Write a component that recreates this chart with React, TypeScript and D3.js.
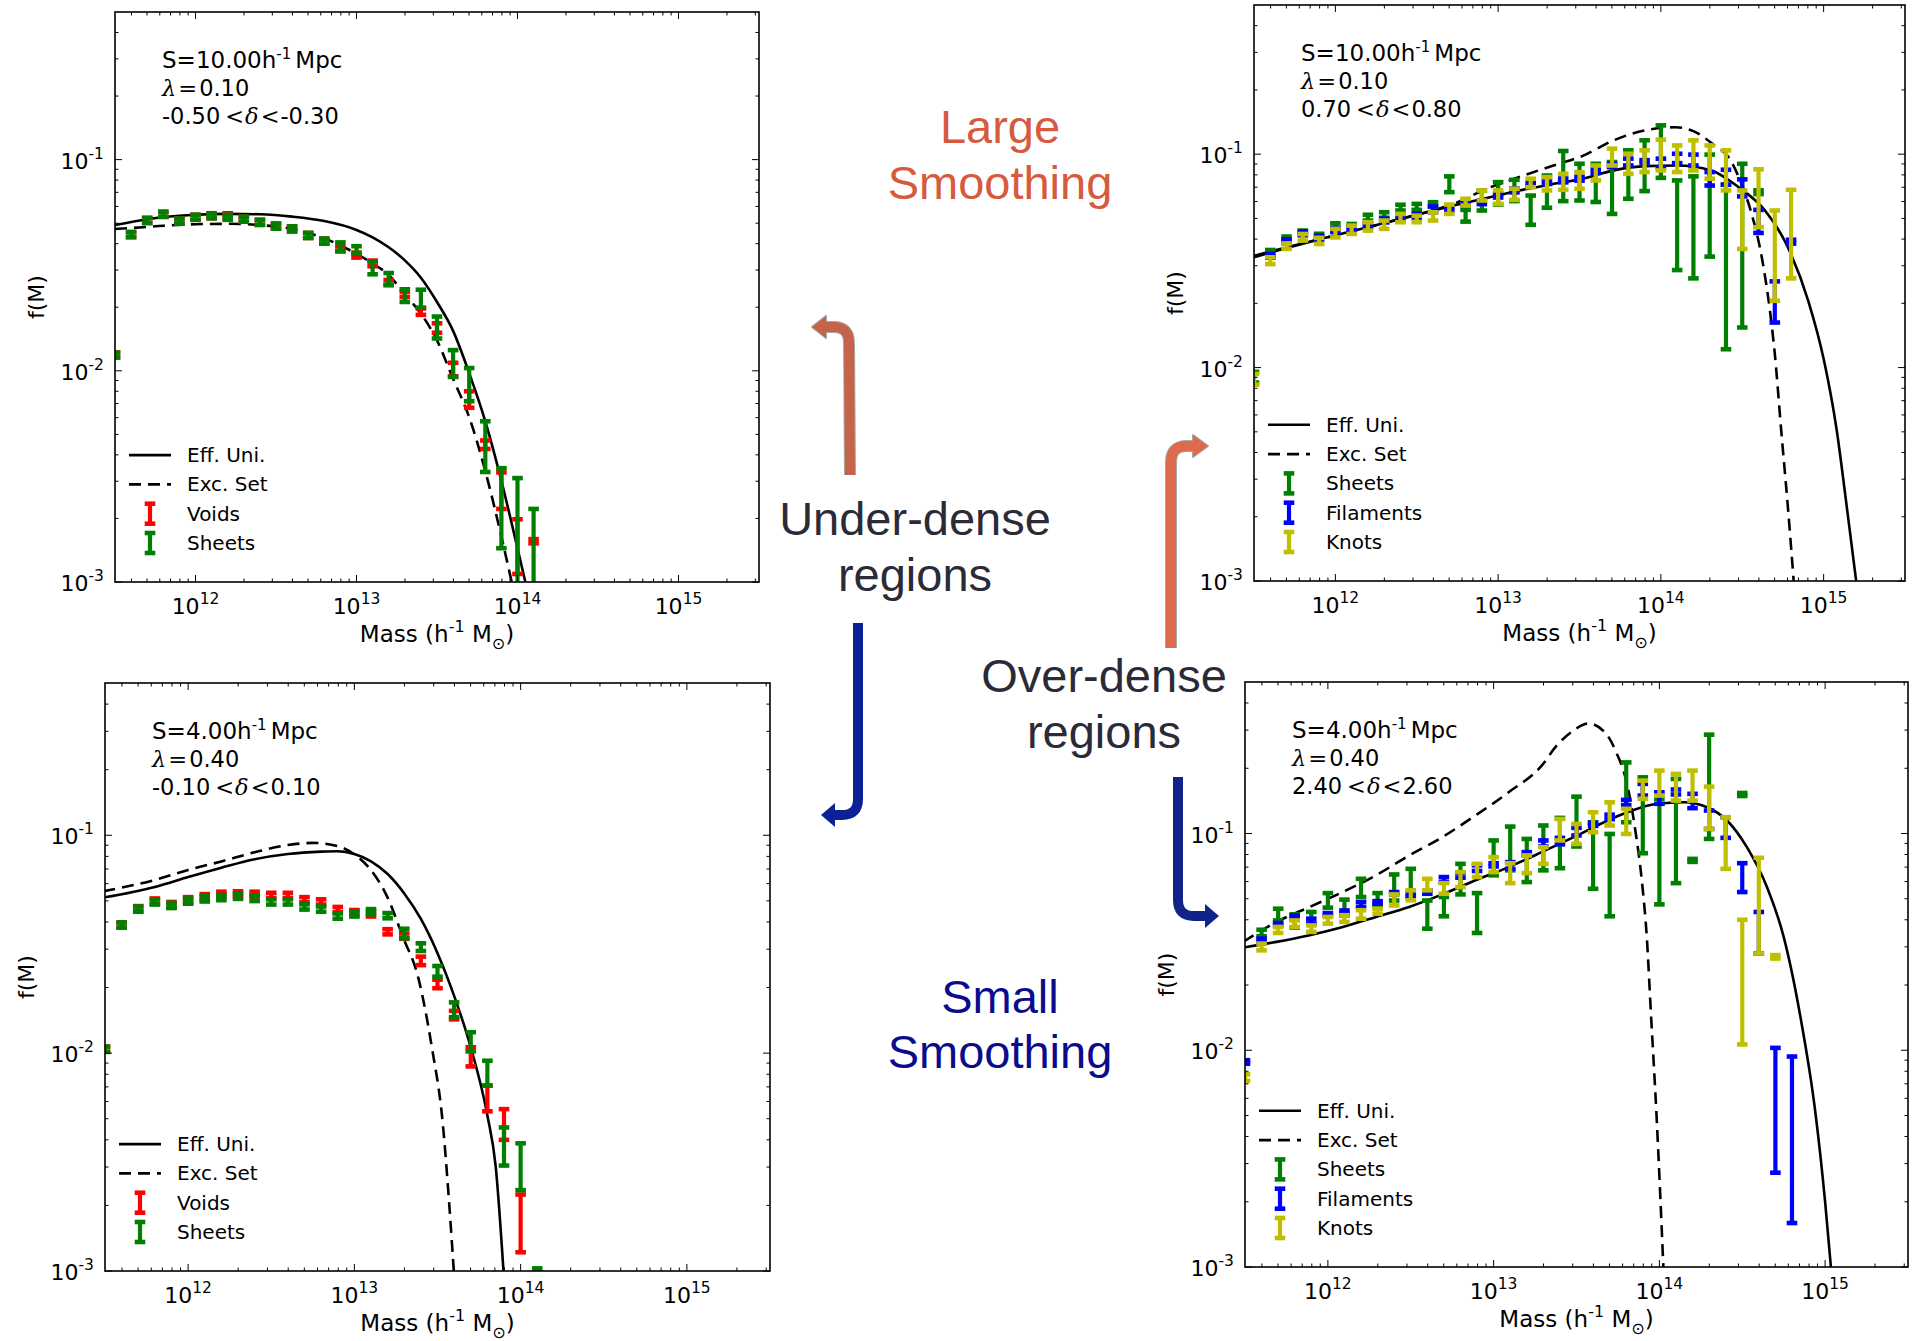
import React from "react";
import * as d3 from "d3";

// ---------- data (log10 M, log10 f) ----------
type EB = [number, number, number]; // [log10 M, log10 f lower, log10 f upper]
type CP = [number, number]; // [log10 M, log10 f]

const X_LIM: [number, number] = [Math.pow(10, 11.5), Math.pow(10, 15.5)];
const Y_LIM: [number, number] = [1e-3, 0.5];
const X_MAJOR_EXP = [12, 13, 14, 15];
const Y_MAJOR_EXP = [-1, -2, -3];

const C_VOIDS = "#ff0000";
const C_SHEETS = "#008000";
const C_FIL = "#0000ff";
const C_KNOTS = "#bfbf00";

// Panel 1: S=10, under-dense
const P1_EFF: CP[] = [[11.5,-1.310],[11.7,-1.282],[11.9,-1.266],[12.0,-1.261],[12.2,-1.257],[12.4,-1.259],[12.6,-1.270],[12.8,-1.291],[13.0,-1.333],[13.1,-1.368],[13.2,-1.415],[13.3,-1.477],[13.4,-1.559],[13.5,-1.674],[13.6,-1.811],[13.7,-2.011],[13.8,-2.239],[13.9,-2.521],[14.0,-2.840],[14.05,-3.004]];
const P1_EXC: CP[] = [[11.5,-1.328],[11.6,-1.324],[11.8,-1.313],[12.0,-1.306],[12.2,-1.304],[12.4,-1.310],[12.6,-1.328],[12.8,-1.373],[13.0,-1.446],[13.1,-1.492],[13.2,-1.546],[13.3,-1.638],[13.4,-1.729],[13.5,-1.856],[13.6,-2.038],[13.7,-2.220],[13.8,-2.475],[13.9,-2.785],[13.965,-3.004]];
const P1_VOIDS: EB[] = [[11.5,-1.937,-1.913],[11.6,-1.367,-1.343],[11.7,-1.300,-1.276],[11.8,-1.271,-1.247],[11.9,-1.303,-1.279],[12.0,-1.285,-1.261],[12.1,-1.278,-1.254],[12.2,-1.278,-1.254],[12.3,-1.294,-1.270],[12.4,-1.309,-1.285],[12.5,-1.327,-1.303],[12.6,-1.340,-1.316],[12.7,-1.371,-1.347],[12.8,-1.398,-1.374],[12.9,-1.435,-1.411],[13.0,-1.464,-1.440],[13.1,-1.505,-1.478],[13.2,-1.595,-1.570],[13.3,-1.650,-1.625],[13.4,-1.735,-1.705],[13.5,-1.820,-1.775],[13.6,-2.026,-1.962],[13.7,-2.175,-2.097],[13.8,-2.370,-2.330],[13.9,-2.654,-2.481],[14.0,-2.962,-2.703],[14.1,-2.817,-2.797]];
const P1_SHEETS: EB[] = [[11.5,-1.937,-1.913],[11.6,-1.367,-1.343],[11.7,-1.300,-1.276],[11.8,-1.271,-1.247],[11.9,-1.303,-1.279],[12.0,-1.285,-1.261],[12.1,-1.278,-1.254],[12.2,-1.285,-1.261],[12.3,-1.294,-1.270],[12.4,-1.309,-1.285],[12.5,-1.327,-1.303],[12.6,-1.340,-1.316],[12.7,-1.371,-1.347],[12.8,-1.398,-1.374],[12.9,-1.432,-1.392],[13.0,-1.446,-1.410],[13.1,-1.543,-1.483],[13.2,-1.592,-1.537],[13.3,-1.674,-1.614],[13.4,-1.701,-1.616],[13.5,-1.847,-1.743],[13.6,-2.029,-1.902],[13.7,-2.144,-1.987],[13.8,-2.479,-2.239],[13.9,-2.840,-2.461],[14.0,-3.100,-2.508],[14.1,-3.100,-2.654]];

// Panel 2: S=10, over-dense
const P2_EFF: CP[] = [[11.5,-1.483],[11.7,-1.440],[11.91,-1.397],[12.12,-1.358],[12.32,-1.319],[12.52,-1.280],[12.725,-1.241],[12.93,-1.205],[13.13,-1.170],[13.33,-1.141],[13.52,-1.115],[13.71,-1.076],[13.905,-1.056],[14.1,-1.053],[14.31,-1.076],[14.476,-1.154],[14.64,-1.264],[14.78,-1.436],[14.905,-1.686],[15.0,-1.959],[15.08,-2.291],[15.145,-2.669],[15.2,-3.0]];
const P2_EXC: CP[] = [[11.5,-1.476],[11.7,-1.437],[11.91,-1.397],[12.12,-1.358],[12.32,-1.319],[12.52,-1.280],[12.725,-1.233],[12.93,-1.162],[13.13,-1.107],[13.34,-1.053],[13.52,-1.008],[13.71,-0.935],[13.905,-0.888],[14.09,-0.874],[14.2,-0.892],[14.33,-0.959],[14.415,-1.013],[14.495,-1.139],[14.557,-1.278],[14.62,-1.483],[14.67,-1.733],[14.70,-1.935],[14.74,-2.3],[14.78,-2.65],[14.816,-3.0]];
const P2_SHEETS: EB[] = [[11.5,-2.07,-2.02],[11.6,-1.480,-1.449],[11.7,-1.405,-1.386],[11.8,-1.371,-1.358],[11.9,-1.387,-1.373],[12.0,-1.345,-1.324],[12.1,-1.339,-1.327],[12.2,-1.311,-1.284],[12.3,-1.298,-1.272],[12.4,-1.264,-1.237],[12.5,-1.261,-1.233],[12.6,-1.245,-1.225],[12.7,-1.178,-1.104],[12.8,-1.316,-1.261],[12.9,-1.264,-1.170],[13.0,-1.236,-1.131],[13.1,-1.220,-1.120],[13.2,-1.331,-1.194],[13.3,-1.251,-1.100],[13.4,-1.220,-0.985],[13.5,-1.217,-1.045],[13.6,-1.224,-1.045],[13.7,-1.280,-1.037],[13.8,-1.209,-0.982],[13.9,-1.173,-0.935],[14.0,-1.111,-0.865],[14.1,-1.543,-1.123],[14.2,-1.582,-1.104],[14.3,-1.480,-1.002],[14.4,-1.914,-1.143],[14.5,-1.812,-1.045],[14.6,-1.187,-1.169]];
const P2_FIL: EB[] = [[11.6,-1.485,-1.467],[11.7,-1.417,-1.399],[11.8,-1.380,-1.362],[11.9,-1.400,-1.382],[12.0,-1.365,-1.347],[12.1,-1.359,-1.341],[12.2,-1.345,-1.327],[12.3,-1.320,-1.302],[12.4,-1.308,-1.290],[12.5,-1.297,-1.279],[12.6,-1.272,-1.245],[12.7,-1.265,-1.247],[12.8,-1.242,-1.224],[12.9,-1.234,-1.216],[13.0,-1.203,-1.185],[13.1,-1.179,-1.161],[13.2,-1.151,-1.133],[13.3,-1.140,-1.122],[13.4,-1.132,-1.114],[13.5,-1.124,-1.106],[13.6,-1.088,-1.070],[13.7,-1.061,-1.045],[13.8,-1.053,-1.021],[13.9,-1.046,-1.028],[14.0,-1.061,-1.021],[14.1,-1.042,-0.998],[14.2,-1.053,-1.002],[14.3,-1.147,-1.084],[14.4,-1.143,-1.073],[14.5,-1.198,-1.118],[14.6,-1.369,-1.261],[14.7,-1.789,-1.596],[14.8,-1.419,-1.401]];
const P2_KNOTS: EB[] = [[11.5,-2.08,-2.03],[11.6,-1.515,-1.483],[11.7,-1.444,-1.418],[11.8,-1.405,-1.374],[11.9,-1.421,-1.392],[12.0,-1.390,-1.350],[12.1,-1.374,-1.335],[12.2,-1.358,-1.319],[12.3,-1.350,-1.311],[12.4,-1.319,-1.280],[12.5,-1.319,-1.288],[12.6,-1.311,-1.272],[12.7,-1.280,-1.236],[12.8,-1.241,-1.209],[12.9,-1.217,-1.170],[13.0,-1.233,-1.170],[13.1,-1.214,-1.162],[13.2,-1.155,-1.115],[13.3,-1.170,-1.108],[13.4,-1.167,-1.092],[13.5,-1.162,-1.084],[13.6,-1.123,-1.053],[13.7,-1.053,-0.974],[13.8,-1.092,-0.998],[13.9,-1.084,-0.982],[14.0,-1.076,-0.932],[14.1,-1.084,-0.959],[14.2,-1.076,-0.935],[14.3,-1.115,-0.959],[14.4,-1.170,-0.982],[14.5,-1.444,-1.170],[14.6,-1.342,-1.071],[14.7,-1.687,-1.264],[14.8,-1.582,-1.167]];

// Panel 3: S=4, under-dense
const P3_EFF: CP[] = [[11.49,-1.286],[11.8,-1.237],[12.0,-1.192],[12.2,-1.149],[12.4,-1.110],[12.6,-1.086],[12.8,-1.075],[12.9,-1.073],[13.0,-1.086],[13.1,-1.120],[13.2,-1.178],[13.3,-1.267],[13.4,-1.384],[13.5,-1.541],[13.6,-1.737],[13.7,-1.973],[13.8,-2.286],[13.85,-2.520],[13.897,-3.0]];
const P3_EXC: CP[] = [[11.49,-1.257],[11.8,-1.205],[12.0,-1.159],[12.2,-1.120],[12.4,-1.078],[12.6,-1.045],[12.75,-1.035],[12.9,-1.050],[13.0,-1.088],[13.1,-1.160],[13.2,-1.286],[13.29,-1.463],[13.386,-1.659],[13.466,-1.973],[13.532,-2.325],[13.571,-2.698],[13.598,-3.0]];
const P3_VOIDS: EB[] = [[11.5,-1.994,-1.970],[11.6,-1.424,-1.400],[11.7,-1.349,-1.325],[11.8,-1.314,-1.290],[11.9,-1.330,-1.306],[12.0,-1.308,-1.284],[12.1,-1.294,-1.270],[12.2,-1.283,-1.259],[12.3,-1.281,-1.257],[12.4,-1.283,-1.259],[12.5,-1.288,-1.264],[12.6,-1.288,-1.264],[12.7,-1.308,-1.284],[12.8,-1.318,-1.294],[12.9,-1.353,-1.329],[13.0,-1.367,-1.343],[13.1,-1.373,-1.349],[13.2,-1.455,-1.431],[13.3,-1.475,-1.451],[13.4,-1.596,-1.557],[13.5,-1.702,-1.663],[13.6,-1.845,-1.806],[13.7,-2.061,-1.973],[13.8,-2.267,-2.149],[13.9,-2.398,-2.257],[14.0,-2.914,-2.649]];
const P3_SHEETS: EB[] = [[11.5,-1.994,-1.970],[11.6,-1.424,-1.400],[11.7,-1.351,-1.327],[11.8,-1.318,-1.294],[11.9,-1.334,-1.310],[12.0,-1.314,-1.290],[12.1,-1.304,-1.280],[12.2,-1.298,-1.274],[12.3,-1.292,-1.268],[12.4,-1.302,-1.278],[12.5,-1.318,-1.294],[12.6,-1.318,-1.294],[12.7,-1.341,-1.317],[12.8,-1.351,-1.327],[12.9,-1.383,-1.359],[13.0,-1.373,-1.349],[13.1,-1.363,-1.339],[13.2,-1.381,-1.357],[13.3,-1.473,-1.429],[13.4,-1.531,-1.496],[13.5,-1.649,-1.600],[13.6,-1.835,-1.767],[13.7,-1.992,-1.904],[13.8,-2.149,-2.035],[13.9,-2.516,-2.341],[14.0,-2.629,-2.414],[14.1,-3.008,-2.988]];

// Panel 4: S=4, over-dense
const P4_EFF: CP[] = [[11.49,-1.526],[11.69,-1.500],[11.89,-1.469],[12.09,-1.431],[12.29,-1.385],[12.49,-1.339],[12.69,-1.281],[12.89,-1.216],[13.09,-1.155],[13.29,-1.086],[13.48,-1.018],[13.784,-0.909],[13.985,-0.863],[14.146,-0.856],[14.287,-0.879],[14.408,-0.940],[14.528,-1.063],[14.649,-1.247],[14.75,-1.477],[14.851,-1.846],[14.94,-2.28],[15.0,-2.70],[15.035,-3.0]];
const P4_EXC: CP[] = [[11.49,-1.500],[11.69,-1.408],[11.89,-1.339],[12.09,-1.270],[12.29,-1.193],[12.49,-1.101],[12.69,-1.017],[12.89,-0.917],[13.09,-0.810],[13.29,-0.687],[13.38,-0.595],[13.48,-0.526],[13.57,-0.492],[13.68,-0.541],[13.74,-0.626],[13.80,-0.756],[13.855,-0.986],[13.894,-1.216],[13.924,-1.477],[13.949,-1.829],[13.984,-2.318],[14.024,-3.0]];
const P4_SHEETS: EB[] = [[11.6,-1.474,-1.444],[11.7,-1.401,-1.347],[11.8,-1.434,-1.373],[11.9,-1.416,-1.362],[12.0,-1.342,-1.275],[12.1,-1.378,-1.305],[12.2,-1.293,-1.209],[12.3,-1.332,-1.275],[12.4,-1.309,-1.189],[12.5,-1.293,-1.163],[12.6,-1.439,-1.309],[12.7,-1.382,-1.293],[12.8,-1.281,-1.140],[12.9,-1.459,-1.275],[13.0,-1.193,-1.032],[13.1,-1.170,-0.968],[13.2,-1.224,-1.025],[13.3,-1.170,-0.963],[13.4,-1.160,-0.928],[13.5,-1.060,-0.830],[13.6,-1.255,-0.948],[13.7,-1.382,-1.002],[13.8,-0.948,-0.672],[13.9,-1.091,-0.741],[14.0,-1.327,-0.840],[14.1,-1.229,-0.748],[14.2,-1.131,-1.117],[14.3,-1.025,-0.544],[14.5,-0.827,-0.813]];
const P4_FIL: EB[] = [[11.5,-2.062,-2.046],[11.6,-1.500,-1.485],[11.7,-1.424,-1.413],[11.8,-1.393,-1.378],[11.9,-1.416,-1.393],[12.0,-1.378,-1.367],[12.1,-1.370,-1.355],[12.2,-1.339,-1.316],[12.3,-1.324,-1.312],[12.4,-1.281,-1.270],[12.5,-1.290,-1.272],[12.6,-1.278,-1.262],[12.7,-1.224,-1.201],[12.8,-1.204,-1.183],[12.9,-1.173,-1.147],[13.0,-1.152,-1.137],[13.1,-1.163,-1.132],[13.2,-1.101,-1.086],[13.3,-1.060,-1.032],[13.4,-1.050,-1.020],[13.5,-1.009,-0.974],[13.6,-0.965,-0.951],[13.7,-0.934,-0.913],[13.8,-0.870,-0.845],[13.9,-0.825,-0.771],[14.0,-0.863,-0.810],[14.1,-0.820,-0.797],[14.2,-0.883,-0.817],[14.3,-0.979,-0.894],[14.4,-1.020,-0.925],[14.5,-1.270,-1.137],[14.6,-1.554,-1.362],[14.7,-2.565,-1.989],[14.8,-2.797,-2.029]];
const P4_KNOTS: EB[] = [[11.5,-2.141,-2.111],[11.6,-1.539,-1.508],[11.7,-1.459,-1.431],[11.8,-1.431,-1.401],[11.9,-1.454,-1.424],[12.0,-1.416,-1.385],[12.1,-1.408,-1.377],[12.2,-1.393,-1.354],[12.3,-1.370,-1.347],[12.4,-1.332,-1.281],[12.5,-1.308,-1.262],[12.6,-1.262,-1.209],[12.7,-1.278,-1.229],[12.8,-1.247,-1.178],[12.9,-1.201,-1.140],[13.0,-1.178,-1.109],[13.1,-1.229,-1.137],[13.2,-1.183,-1.101],[13.3,-1.140,-1.063],[13.4,-1.032,-0.933],[13.5,-1.048,-0.956],[13.6,-0.994,-0.902],[13.7,-0.963,-0.856],[13.8,-1.002,-0.886],[13.9,-0.840,-0.756],[14.0,-0.825,-0.710],[14.1,-0.848,-0.725],[14.2,-0.848,-0.710],[14.3,-0.979,-0.784],[14.4,-1.163,-0.925],[14.5,-1.973,-1.398],[14.6,-1.554,-1.112],[14.7,-1.577,-1.561]];

// ---------- layout ----------
type Series = { label: string; color: string; data: EB[] };
type PanelSpec = {
  id: string;
  frame: { l: number; t: number; r: number; b: number };
  s: string; lam: string; dLo: string; dHi: string;
  eff: CP[]; exc: CP[]; series: Series[];
};

const PANELS: PanelSpec[] = [
  { id: "p1", frame: { l: 115, t: 12, r: 759, b: 582 }, s: "10.00", lam: "0.10", dLo: "-0.50", dHi: "-0.30", eff: P1_EFF, exc: P1_EXC,
    series: [{ label: "Voids", color: C_VOIDS, data: P1_VOIDS }, { label: "Sheets", color: C_SHEETS, data: P1_SHEETS }] },
  { id: "p2", frame: { l: 1254, t: 5, r: 1905, b: 581 }, s: "10.00", lam: "0.10", dLo: "0.70", dHi: "0.80", eff: P2_EFF, exc: P2_EXC,
    series: [{ label: "Sheets", color: C_SHEETS, data: P2_SHEETS }, { label: "Filaments", color: C_FIL, data: P2_FIL }, { label: "Knots", color: C_KNOTS, data: P2_KNOTS }] },
  { id: "p3", frame: { l: 105, t: 683, r: 770, b: 1271 }, s: "4.00", lam: "0.40", dLo: "-0.10", dHi: "0.10", eff: P3_EFF, exc: P3_EXC,
    series: [{ label: "Voids", color: C_VOIDS, data: P3_VOIDS }, { label: "Sheets", color: C_SHEETS, data: P3_SHEETS }] },
  { id: "p4", frame: { l: 1245, t: 682, r: 1908, b: 1267 }, s: "4.00", lam: "0.40", dLo: "2.40", dHi: "2.60", eff: P4_EFF, exc: P4_EXC,
    series: [{ label: "Sheets", color: C_SHEETS, data: P4_SHEETS }, { label: "Filaments", color: C_FIL, data: P4_FIL }, { label: "Knots", color: C_KNOTS, data: P4_KNOTS }] },
];

const SANS = "DejaVu Sans";
const SERIF = "DejaVu Serif";
const DASH = "12,7";

function ErrBar({ cx, y1, y2, color }: { cx: number; y1: number; y2: number; color: string }) {
  return (
    <g>
      <line x1={cx} x2={cx} y1={y1} y2={y2} stroke={color} strokeWidth={4.2} />
      <line x1={cx - 5.3} x2={cx + 5.3} y1={y1} y2={y1} stroke={color} strokeWidth={4.6} />
      <line x1={cx - 5.3} x2={cx + 5.3} y1={y2} y2={y2} stroke={color} strokeWidth={4.6} />
    </g>
  );
}

function Panel({ p }: { p: PanelSpec }) {
  const { l, t, r, b } = p.frame;
  const x = d3.scaleLog().domain(X_LIM).range([l, r]);
  const y = d3.scaleLog().domain(Y_LIM).range([b, t]);
  const line = d3
    .line<CP>()
    .x((d) => x(Math.pow(10, d[0])))
    .y((d) => y(Math.pow(10, d[1])))
    .curve(d3.curveMonotoneX);

  const xTicks: { v: number; major: boolean }[] = [];
  for (let e = 11; e <= 15; e++)
    for (let k = 1; k <= 9; k++) {
      const v = k * Math.pow(10, e);
      if (v >= X_LIM[0] * 0.999 && v <= X_LIM[1]) xTicks.push({ v, major: k === 1 });
    }
  const yTicks: { v: number; major: boolean }[] = [];
  for (let e = -3; e <= -1; e++)
    for (let k = 1; k <= 9; k++) {
      const v = k * Math.pow(10, e);
      if (v >= Y_LIM[0] * 0.999 && v < Y_LIM[1] * 0.999) yTicks.push({ v, major: k === 1 });
    }

  const clipId = `clip-${p.id}`;
  const nRows = 2 + p.series.length;
  const rowY = (i: number) => b - 39 - (nRows - 1 - i) * 29.3;
  const tx = l + 47;

  return (
    <g>
      <defs>
        <clipPath id={clipId}>
          <rect x={l} y={t} width={r - l} height={b - t} />
        </clipPath>
      </defs>
      <g clipPath={`url(#${clipId})`}>
        <path d={line(p.eff) || ""} fill="none" stroke="#000" strokeWidth={2.6} />
        <path d={line(p.exc) || ""} fill="none" stroke="#000" strokeWidth={2.6} strokeDasharray={DASH} />
        {p.series.map((s) => (
          <g key={s.label}>
            {s.data.map((d, i) => (
              <ErrBar key={i} cx={x(Math.pow(10, d[0]))} y1={y(Math.pow(10, d[2]))} y2={y(Math.pow(10, d[1]))} color={s.color} />
            ))}
          </g>
        ))}
      </g>
      {/* ticks */}
      {xTicks.map((tk, i) => {
        const px = x(tk.v);
        const len = tk.major ? 7 : 3.5;
        return (
          <g key={"xt" + i} stroke="#000" strokeWidth={1}>
            <line x1={px} x2={px} y1={b} y2={b - len} />
            <line x1={px} x2={px} y1={t} y2={t + len} />
          </g>
        );
      })}
      {yTicks.map((tk, i) => {
        const py = y(tk.v);
        const len = tk.major ? 7 : 3.5;
        return (
          <g key={"yt" + i} stroke="#000" strokeWidth={1}>
            <line x1={l} x2={l + len} y1={py} y2={py} />
            <line x1={r} x2={r - len} y1={py} y2={py} />
          </g>
        );
      })}
      <rect x={l} y={t} width={r - l} height={b - t} fill="none" stroke="#000" strokeWidth={1.6} />
      {/* tick labels */}
      {X_MAJOR_EXP.map((e) => (
        <text key={"xl" + e} x={x(Math.pow(10, e))} y={b + 32} textAnchor="middle" fontFamily={SANS} fontSize={22}>
          10<tspan dy={-10} fontSize={15.5}>{e}</tspan>
        </text>
      ))}
      {Y_MAJOR_EXP.map((e) => (
        <text key={"yl" + e} x={l - 11} y={y(Math.pow(10, e)) + 9} textAnchor="end" fontFamily={SANS} fontSize={22}>
          10<tspan dy={-10} fontSize={15.5}>{e}</tspan>
        </text>
      ))}
      {/* axis labels */}
      <text x={(l + r) / 2} y={b + 60} textAnchor="middle" fontFamily={SANS} fontSize={23}>
        Mass (h<tspan dy={-10} fontSize={16}>-1</tspan>
        <tspan dy={10}> M</tspan>
        <tspan dy={7} fontSize={16}>⊙</tspan>
        <tspan dy={-7}>)</tspan>
      </text>
      <text transform={`translate(${l - 79},${(t + b) / 2}) rotate(-90)`} textAnchor="middle" dominantBaseline="central" fontFamily={SANS} fontSize={22}>
        f(M)
      </text>
      {/* annotation */}
      <text x={tx} y={t + 56} fontFamily={SANS} fontSize={23}>
        S={p.s}h<tspan dy={-9} fontSize={15}>-1</tspan>
        <tspan dy={9} dx={4}>Mpc</tspan>
      </text>
      <text x={tx} y={t + 84} fontFamily={SANS} fontSize={22.5}>
        <tspan fontFamily={SERIF} fontStyle="italic">λ</tspan>
        <tspan fontFamily={SERIF} dx={2}>=</tspan>
        <tspan dx={2}>{p.lam}</tspan>
      </text>
      <text x={tx} y={t + 112} fontFamily={SANS} fontSize={22.5}>
        {p.dLo}
        <tspan fontFamily={SERIF} dx={5}>&lt;</tspan>
        <tspan fontFamily={SERIF} fontStyle="italic" dx={1}>δ</tspan>
        <tspan fontFamily={SERIF} dx={2}>&lt;</tspan>
        <tspan dx={1}>{p.dHi}</tspan>
      </text>
      {/* legend */}
      <g>
        <line x1={l + 14} x2={l + 56} y1={rowY(0)} y2={rowY(0)} stroke="#000" strokeWidth={2.6} />
        <text x={l + 72} y={rowY(0) + 7} fontFamily={SANS} fontSize={20}>Eff. Uni.</text>
        <line x1={l + 14} x2={l + 56} y1={rowY(1)} y2={rowY(1)} stroke="#000" strokeWidth={2.6} strokeDasharray={DASH} />
        <text x={l + 72} y={rowY(1) + 7} fontFamily={SANS} fontSize={20}>Exc. Set</text>
        {p.series.map((s, i) => (
          <g key={"lg" + s.label}>
            <ErrBar cx={l + 35} y1={rowY(i + 2) - 10} y2={rowY(i + 2) + 10} color={s.color} />
            <text x={l + 72} y={rowY(i + 2) + 7} fontFamily={SANS} fontSize={20}>{s.label}</text>
          </g>
        ))}
      </g>
    </g>
  );
}

function BentArrow({ d, head, color, outline }: { d: string; head: string; color: string; outline?: string }) {
  return (
    <g>
      {outline && <path d={d} fill="none" stroke={outline} strokeWidth={12} />}
      {outline && <polygon points={head} fill={outline} stroke={outline} strokeWidth={2} strokeLinejoin="round" />}
      <path d={d} fill="none" stroke={color} strokeWidth={10} />
      <polygon points={head} fill={color} />
    </g>
  );
}

const ORANGE_TEXT = "#d65b3e";
const DARK_TEXT = "#2b2b38";
const BLUE_TEXT = "#0b0b8e";
const CENTER_FONT = "Liberation Sans";

export default function App() {
  React.useEffect(() => {
    document.body.style.margin = "0";
    document.body.style.overflow = "hidden";
  }, []);
  return (
    <svg width={1915} height={1341} style={{ position: "absolute", left: 0, top: 0, display: "block", background: "#fff" }}>
      <rect x={0} y={0} width={1915} height={1341} fill="#fff" />
      {PANELS.map((p) => (
        <Panel key={p.id} p={p} />
      ))}

      {/* center annotations */}
      <g fontFamily={CENTER_FONT} fontSize={47} textAnchor="middle">
        <text x={1000} y={143} fill={ORANGE_TEXT}>Large</text>
        <text x={1000} y={199} fill={ORANGE_TEXT}>Smoothing</text>
        <text x={915} y={535} fill={DARK_TEXT}>Under-dense</text>
        <text x={915} y={591} fill={DARK_TEXT}>regions</text>
        <text x={1104} y={692} fill={DARK_TEXT}>Over-dense</text>
        <text x={1104} y={748} fill={DARK_TEXT}>regions</text>
        <text x={1000} y={1013} fill={BLUE_TEXT}>Small</text>
        <text x={1000} y={1068} fill={BLUE_TEXT}>Smoothing</text>
      </g>

      {/* arrows */}
      <BentArrow d="M 850 475 L 849 343 Q 849 327 834 327 L 824 327" head="812,327 826,316 826,338" color="#c5634b" outline="#a8aaa2" />
      <BentArrow d="M 1171 648 L 1171 462 Q 1171 446 1187 446 L 1195 446" head="1208,446 1193,435 1193,457" color="#dd6a4d" outline="#a8aaa2" />
      <BentArrow d="M 858 623 L 858 799 Q 858 815 842 815 L 834 815" head="821,815 835,803 835,827" color="#0c2196" />
      <BentArrow d="M 1178 777 L 1178 900 Q 1178 916 1194 916 L 1206 916" head="1219,916 1205,904 1205,928" color="#112288" />
    </svg>
  );
}
